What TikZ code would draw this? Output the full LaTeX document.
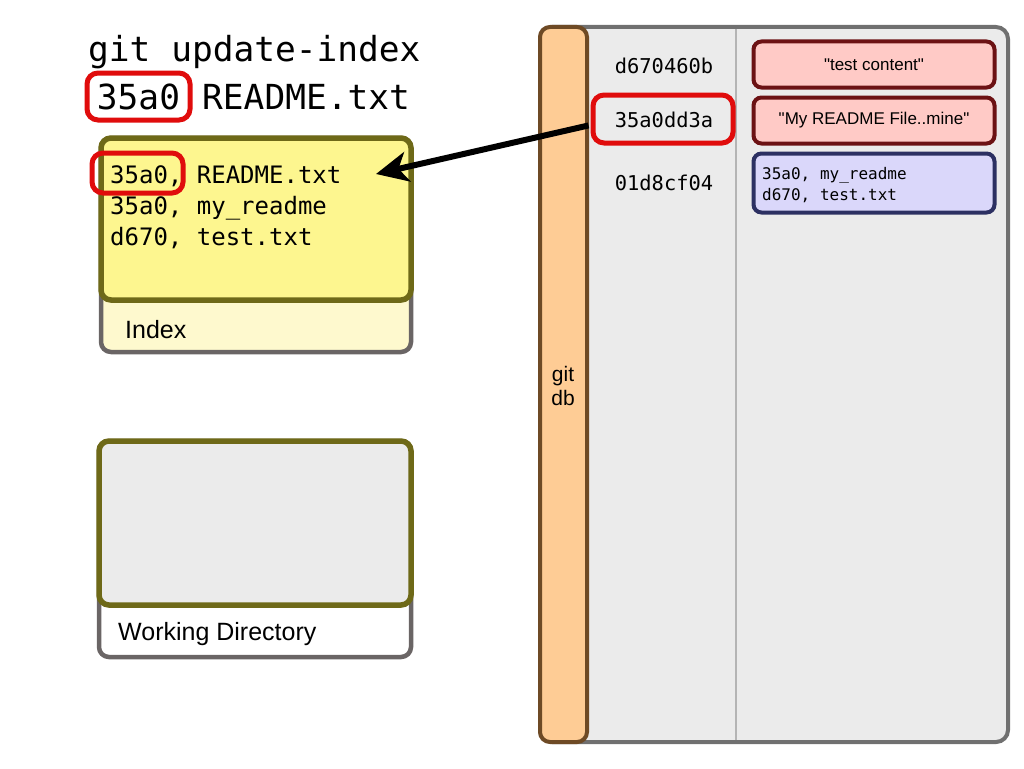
\documentclass[tikz,border=0pt]{standalone}
\usepackage{fontspec}
\newfontfamily\labelfont{Liberation Sans}
\setmonofont{DejaVu Sans Mono}
\usetikzlibrary{arrows.meta}

\definecolor{hlred}{HTML}{E00C0C}
\definecolor{olive}{HTML}{6E6918}
\definecolor{frame}{HTML}{6A6565}
\definecolor{idxyellow}{HTML}{FDF68F}
\definecolor{idxpale}{HTML}{FEF9CE}
\definecolor{wdgray}{HTML}{EBEBEB}
\definecolor{dbfill}{HTML}{EBEBEB}
\definecolor{dbframe}{HTML}{707070}
\definecolor{colfill}{HTML}{FECC95}
\definecolor{colframe}{HTML}{6E4A25}
\definecolor{blobfill}{HTML}{FFCAC6}
\definecolor{blobframe}{HTML}{6C1214}
\definecolor{treefill}{HTML}{DAD7FA}
\definecolor{treeframe}{HTML}{2C3062}
\definecolor{sepgray}{HTML}{B4B4B4}

\tikzset{
  panel/.style={draw=frame, line width=4.5pt, rounded corners=10pt, inner sep=0pt},
  innerpanel/.style={draw=olive, line width=5.5pt, rounded corners=10pt, inner sep=0pt},
  hilite/.style={draw=hlred, line width=5pt, rounded corners=11pt, inner sep=0pt},
  title/.style={font=\fontsize{34.5}{40}\selectfont\ttfamily, inner sep=0pt, anchor=base west},
  entry/.style={font=\fontsize{24}{30}\selectfont\ttfamily, inner sep=0pt, anchor=base west},
  hashtxt/.style={font=\fontsize{20.4}{24}\selectfont\ttfamily, inner sep=0pt, anchor=base},
  treetxt/.style={font=\fontsize{16}{20}\selectfont\ttfamily, inner sep=0pt, anchor=base west},
  label/.style={font=\fontsize{25}{30}\selectfont\labelfont, inner sep=0pt, anchor=base west},
  blob/.style={draw=blobframe, fill=blobfill, line width=4pt, rounded corners=8pt,
    minimum width=241pt, minimum height=46pt, inner sep=0pt,
    font=\fontsize{17}{20}\selectfont\labelfont},
  tree/.style={draw=treeframe, fill=treefill, line width=4pt, rounded corners=8pt,
    minimum width=241pt, minimum height=59pt, inner sep=0pt},
  pointer/.style={line width=6pt, -{Stealth[length=32pt,width=30pt,inset=9pt]}}
}

\begin{document}
\begin{tikzpicture}[x=1pt,y=-1pt]
\useasboundingbox (0,0) rectangle (1024,768);

% ---- command being run ----
\node[title] (cmd1) at (88,62) {git update-index};
\node[title] (cmd2) at (202,109) {README.txt};
\node[hilite, minimum width=103pt, minimum height=47pt,
      font=\fontsize{34.5}{40}\selectfont\ttfamily, text height=25pt, text depth=0pt]
      (cmdsha) at (138.5,96.5) {35a0};

% ---- index ----
\node[panel, fill=idxpale, minimum width=310pt, minimum height=214pt] (idxout) at (256,245) {};
\node[innerpanel, fill=idxyellow, minimum width=310pt, minimum height=162pt] (idxin) at (256,219) {};
\node[label] (idxlbl) at (125,338) {Index};
\node[entry] (ie1) at (110,183) {35a0, README.txt};
\node[entry] (ie2) at (110,214) {35a0, my\_readme};
\node[entry] (ie3) at (110,245) {d670, test.txt};
\node[hilite, minimum width=91pt, minimum height=40pt] (iesha) at (137.5,173) {};
\coordinate (tip) at (376,174);

% ---- working directory ----
\node[panel, fill=white, minimum width=312pt, minimum height=216pt] (wdout) at (255,549) {};
\node[innerpanel, fill=wdgray, minimum width=312pt, minimum height=164pt] (wdin) at (255,523) {};
\node[label] (wdlbl) at (118,640) {Working Directory};

% ---- object database ----
\node[draw=dbframe, fill=dbfill, line width=4pt, rounded corners=12pt,
      minimum width=468pt, minimum height=715pt] (db) at (774,384.5) {};
\coordinate (sepa) at (736,29);
\coordinate (sepb) at (736,740);
\draw[sepgray, line width=1.3pt] (sepa) -- (sepb);
\node[draw=colframe, fill=colfill, line width=4pt, rounded corners=10pt,
      minimum width=47pt, minimum height=715pt] (col) at (563.5,384.5) {};
\node[font=\fontsize{21}{24}\selectfont\labelfont, align=center, inner sep=0pt]
      (dblbl) at (563,386) {git\\db};

\node[hashtxt] (h1) at (664,73) {d670460b};
\node[hashtxt] (h2) at (664,127) {35a0dd3a};
\node[hashtxt] (h3) at (664,190) {01d8cf04};

\node[blob] (b1) at (874,64.5) {"test content"};
\node[blob] (b2) at (874,120.5) {"My README File..mine"};
\node[tree] (t3) at (874,183) {};
\node[treetxt] (tl1) at (762,179) {35a0, my\_readme};
\node[treetxt] (tl2) at (762,200) {d670, test.txt};

% ---- lookup arrow ----
\node[hilite, minimum width=140pt, minimum height=48pt] (hsha) at (663,119) {};
\draw[pointer, shorten <=2pt] ([yshift=-6pt]hsha.west) -- (tip);
\end{tikzpicture}
\end{document}
